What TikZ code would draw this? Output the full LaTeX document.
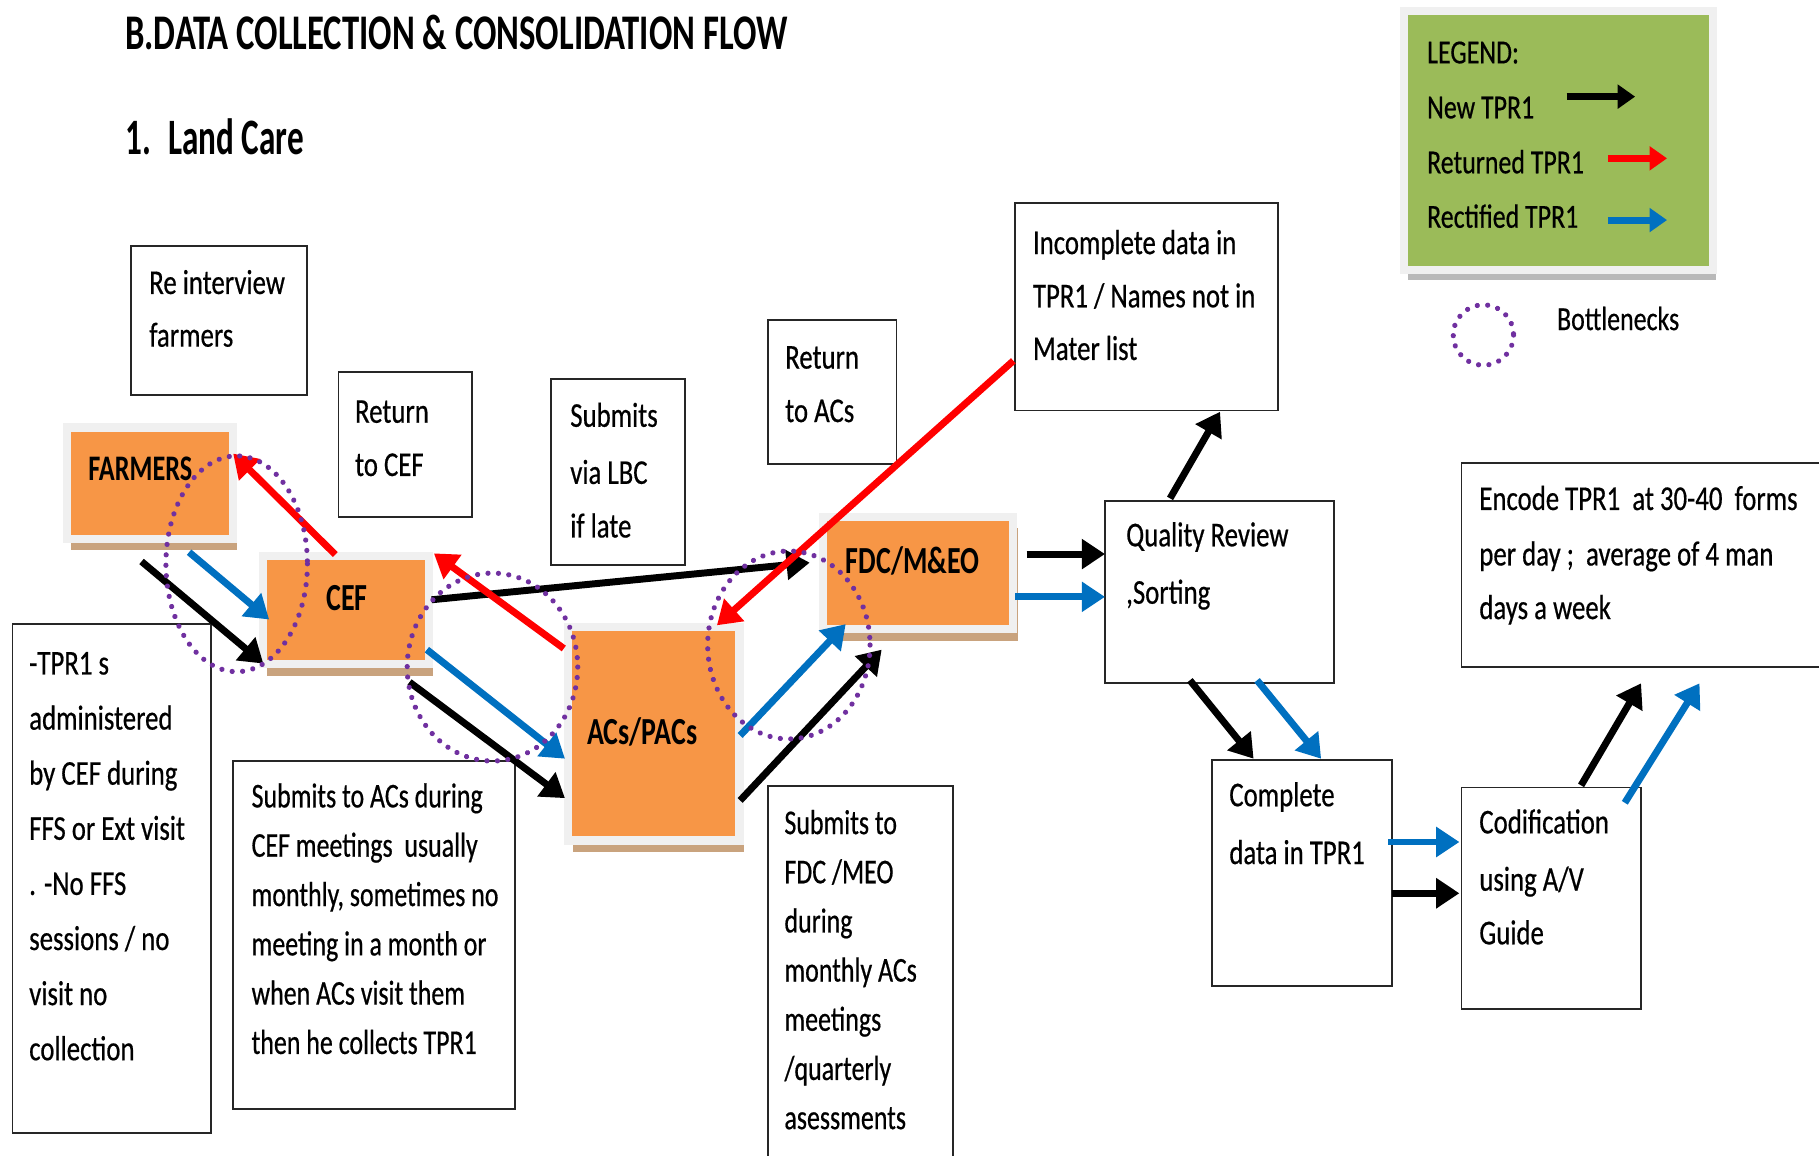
\documentclass[tikz,border=0pt]{standalone}
\usepackage{fontspec}
\setmainfont[FakeStretch=0.77, UprightFeatures={FakeBold=0.5}]{Carlito}
\newfontfamily\narrowfont[FakeStretch=0.745, UprightFeatures={FakeBold=0.5}]{Carlito}
\newfontfamily\titlefont[FakeStretch=0.695]{Carlito}
\newfontfamily\landfont[FakeStretch=0.65]{Carlito}
\newfontfamily\labelfont[FakeStretch=0.73]{Carlito}
\usetikzlibrary{arrows.meta,shadows}
\definecolor{orangefill}{HTML}{F79646}
\definecolor{legendgreen}{HTML}{9BBB59}
\definecolor{flowblue}{HTML}{0070C0}
\definecolor{flowred}{HTML}{FF0000}
\definecolor{bottlepurple}{HTML}{7030A0}
\definecolor{framegray}{HTML}{F0F0F0}
\definecolor{shadowtan}{RGB}{201,163,126}
\definecolor{shadowgray}{RGB}{185,185,185}
\newcommand\boxline[4]{\node[txt] (#1) at (#2,#3) {#4};}
\newcommand\nboxline[4]{\node[ntxt] (#1) at (#2,#3) {#4};}
\begin{document}
\begin{tikzpicture}[x=1pt,y=-1pt,
  txt/.style={anchor=base west, inner sep=0pt, font=\fontsize{30}{36}\selectfont},
  ntxt/.style={anchor=base west, inner sep=0pt, font=\narrowfont\fontsize{30}{36}\selectfont},
  lbl/.style={anchor=base west, inner sep=0pt, font=\labelfont\bfseries\fontsize{33}{40}\selectfont},
  plain/.style={draw=black!85, line width=1.6pt, fill=white, inner sep=0pt, anchor=north west},
  orangebox/.style={fill=orangefill, draw=framegray, line width=7pt, inner sep=0pt,
    drop shadow={fill=shadowtan, opacity=1, shadow xshift=4pt, shadow yshift=-10pt}},
  arr/.style={line width=6pt, -{Triangle[length=20pt,width=25pt]}},
  blk/.style={arr, draw=black},
  rd/.style={arr, draw=flowred},
  bl/.style={arr, draw=flowblue},
  larr/.style={line width=6pt, -{Triangle[length=15pt,width=20pt]}},
  bottle/.style={draw=bottlepurple, line width=4.5pt, line cap=round, dash pattern=on 0.01pt off 9pt}]
\useasboundingbox (0,0) rectangle (1568,996);
\clip (0,0) rectangle (1568,996);
\fill[white] (0,0) rectangle (1568,996);

% titles
\node[anchor=base west, inner sep=0pt, font=\titlefont\bfseries\fontsize{43}{50}\selectfont] (title) at (107.8,43) {B.DATA COLLECTION \& CONSOLIDATION FLOW};
\node[anchor=base west, inner sep=0pt, font=\landfont\bfseries\fontsize{44}{50}\selectfont] (landcare) at (107.8,133.6) {1.\hspace{15pt}Land Care};

% legend
\node[fill=legendgreen, draw=framegray, line width=7pt, inner sep=0pt, minimum width=266pt, minimum height=223pt,
  drop shadow={fill=shadowgray, opacity=1, shadow xshift=3pt, shadow yshift=-9pt}] (legend) at (1343.5,121) {};
\node[txt, font=\fontsize{29}{36}\selectfont] (lg0) at (1230,54.6) {LEGEND:};
\node[txt, font=\fontsize{29}{36}\selectfont] (lg1) at (1230,102) {New TPR1};
\node[txt, font=\fontsize{29}{36}\selectfont] (lg2) at (1230,149.4) {Returned TPR1};
\node[txt, font=\fontsize{29}{36}\selectfont] (lg3) at (1230,196.3) {Rectified TPR1};
\coordinate (lga) at (1350.5,83.3); \coordinate (lgb) at (1409.5,83.3);
\coordinate (lgc) at (1386,136.5); \coordinate (lgd) at (1437,136.5);
\coordinate (lge) at (1386,189.7); \coordinate (lgf) at (1437,189.7);
\draw[larr, draw=black] (lga) -- (lgb);
\draw[larr, draw=flowred] (lgc) -- (lgd);
\draw[larr, draw=flowblue] (lge) -- (lgf);
\draw[bottle] (1278.7,288.8) circle (26);
\node[txt, font=\fontsize{29}{36}\selectfont] (lg4) at (1342,284.5) {Bottlenecks};

% plain boxes
\node[plain, minimum width=152pt, minimum height=129pt] (reint) at (112,211) {};
\node[plain, minimum width=115pt, minimum height=125pt] (retcef) at (291,320) {};
\node[plain, minimum width=116pt, minimum height=160pt] (lbc) at (474,326) {};
\node[plain, minimum width=111pt, minimum height=124pt] (retacs) at (661,275) {};
\node[plain, minimum width=227pt, minimum height=179pt] (incomp) at (874,174) {};
\node[plain, minimum width=341pt, minimum height=176pt] (encode) at (1259,398) {};
\node[plain, minimum width=197pt, minimum height=157pt] (qr) at (952,431) {};
\node[plain, minimum width=155pt, minimum height=195pt] (complete) at (1044,654) {};
\node[plain, minimum width=155pt, minimum height=191pt] (codif) at (1259,678) {};
\node[plain, minimum width=171pt, minimum height=439pt] (tpr) at (10,537) {};
\node[plain, minimum width=243pt, minimum height=300pt] (subacs) at (200,655) {};
\node[plain, minimum width=160pt, minimum height=343pt] (subfdc) at (661,677) {};

% box texts
\boxline{ri1}{128.5}{253.4}{Re interview}
\boxline{ri2}{128.5}{298.8}{farmers}
\boxline{rc1}{305.9}{364.4}{Return}
\boxline{rc2}{305.9}{410.3}{to CEF}
\boxline{lb1}{491.4}{367.9}{Submits}
\boxline{lb2}{491.4}{417.1}{via LBC}
\boxline{lb3}{491.4}{463.3}{if late}
\boxline{ra1}{676.7}{317.7}{Return}
\boxline{ra2}{676.7}{363.8}{to ACs}
\boxline{ic1}{890.2}{219}{Incomplete data in}
\boxline{ic2}{890.2}{264.9}{TPR1 / Names not in}
\boxline{ic3}{890.2}{310.3}{Mater list}
\boxline{en1}{1275}{439.6}{Encode TPR1~ at 30-40~ forms}
\boxline{en2}{1275}{487.4}{per day ;~ average of 4 man}
\boxline{en3}{1275}{533.6}{days a week}
\boxline{qr1}{970.6}{470.9}{Quality Review}
\boxline{qr2}{970.6}{520.4}{,Sorting}
\boxline{cp1}{1059.5}{695}{Complete}
\boxline{cp2}{1059.5}{744.8}{data in TPR1}
\boxline{cd1}{1275}{718.4}{Codification}
\boxline{cd2}{1275}{767.8}{using A/V}
\boxline{cd3}{1275}{814}{Guide}
\boxline{tp1}{25}{581.4}{-TPR1 s}
\boxline{tp2}{25}{628.9}{administered}
\boxline{tp3}{25}{676.4}{by CEF during}
\boxline{tp4}{25}{723.9}{FFS or Ext visit}
\boxline{tp5}{25}{771.4}{. -No FFS}
\boxline{tp6}{25}{818.9}{sessions / no}
\boxline{tp7}{25}{866.4}{visit no}
\boxline{tp8}{25}{913.9}{collection}
\nboxline{sa1}{216.7}{696}{Submits to ACs during}
\nboxline{sa2}{216.7}{738.5}{CEF meetings~ usually}
\nboxline{sa3}{216.7}{781}{monthly, sometimes no}
\nboxline{sa4}{216.7}{823.5}{meeting in a month or}
\nboxline{sa5}{216.7}{866}{when ACs visit them}
\nboxline{sa6}{216.7}{908.5}{then he collects TPR1}
\nboxline{sf1}{676}{719}{Submits to}
\nboxline{sf2}{676}{761.4}{FDC /MEO}
\nboxline{sf3}{676}{803.8}{during}
\nboxline{sf4}{676}{846.1}{monthly ACs}
\nboxline{sf5}{676}{888.5}{meetings}
\nboxline{sf6}{676}{930.9}{/quarterly}
\nboxline{sf7}{676}{973.3}{asessments}

% orange boxes
\node[orangebox, minimum width=143pt, minimum height=96pt] (farmers) at (129,416.5) {};
\node[orangebox, minimum width=143pt, minimum height=93pt] (cef) at (298,526) {};
\node[orangebox, minimum width=148pt, minimum height=184pt] (acs) at (563.5,632.5) {};
\node[orangebox, minimum width=164pt, minimum height=97pt] (fdc) at (791.5,494) {};
\node[lbl, font=\labelfont\bfseries\fontsize{31}{40}\selectfont] (farmerslbl) at (76,414) {FARMERS};
\node[lbl] (ceflbl) at (281,526) {CEF};
\node[lbl] (acslbl) at (506,642) {ACs/PACs};
\node[lbl] (fdclbl) at (729,494) {FDC/M\&EO};

% connector end points
\coordinate (a1s) at (122,484);      \coordinate (a1e) at (227,572);
\coordinate (a2s) at (163,476);      \coordinate (a2e) at (232,534);
\coordinate (a3s) at (289,478);      \coordinate (a3e) at (201,391);
\coordinate (a4s) at (372,517);      \coordinate (a4e) at (698,485);
\coordinate (a5s) at (486,559);      \coordinate (a5e) at (374,477);
\coordinate (a6s) at (368,560);      \coordinate (a6e) at (487,654);
\coordinate (a7s) at (353,588);      \coordinate (a7e) at (487,688);
\coordinate (a8s) at (873.5,311);    \coordinate (a8e) at (618,539);
\coordinate (a9s) at (638,634);      \coordinate (a9e) at (729,538);
\coordinate (a10s) at (638,690);     \coordinate (a10e) at (760,560);
\coordinate (a11s) at (885,477.6);   \coordinate (a11e) at (952.5,477.6);
\coordinate (a12s) at (875,514.5);   \coordinate (a12e) at (952.5,514.5);
\coordinate (a13s) at (1008.6,429.6); \coordinate (a13e) at (1051.7,354.9);
\coordinate (a14s) at (1025.7,586.4); \coordinate (a14e) at (1080.6,654);
\coordinate (a15s) at (1083.6,586.4); \coordinate (a15e) at (1138.8,654);
\coordinate (a16s) at (1196.8,725.8); \coordinate (a16e) at (1258,725.8);
\coordinate (a17s) at (1199.8,770);   \coordinate (a17e) at (1258,770);
\coordinate (a18s) at (1362.9,677);   \coordinate (a18e) at (1414.6,589);
\coordinate (a19s) at (1400.6,692);   \coordinate (a19e) at (1465,589);

\draw[blk] (a1s) -- (a1e);
\draw[bl]  (a2s) -- (a2e);
\draw[rd]  (a3s) -- (a3e);
\draw[blk] (a4s) -- (a4e);
\draw[rd]  (a5s) -- (a5e);
\draw[bl]  (a6s) -- (a6e);
\draw[blk] (a7s) -- (a7e);
\draw[rd]  (a8s) -- (a8e);
\draw[bl]  (a9s) -- (a9e);
\draw[blk] (a10s) -- (a10e);
\draw[blk] (a11s) -- (a11e);
\draw[bl]  (a12s) -- (a12e);
\draw[blk] (a13s) -- (a13e);
\draw[blk] (a14s) -- (a14e);
\draw[bl]  (a15s) -- (a15e);
\draw[bl]  (a16s) -- (a16e);
\draw[blk] (a17s) -- (a17e);
\draw[blk] (a18s) -- (a18e);
\draw[bl]  (a19s) -- (a19e);

% bottlenecks
\draw[bottle] (204,486) ellipse [x radius=61, y radius=93];
\draw[bottle] (424.5,575) ellipse [x radius=73.5, y radius=81];
\draw[bottle] (680,556) ellipse [x radius=70, y radius=81];
\end{tikzpicture}
\end{document}
